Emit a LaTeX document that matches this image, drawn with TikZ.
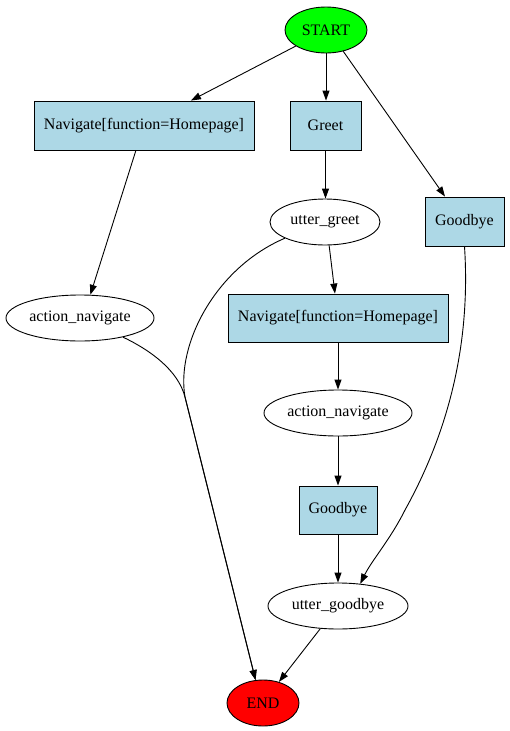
\documentclass[tikz,border=0pt]{standalone}
\usepackage{fontspec}
\setmainfont{Liberation Serif}
\usetikzlibrary{shapes.geometric,arrows.meta}
\definecolor{lb}{HTML}{ADD8E6}
\begin{document}
\begin{tikzpicture}[x=1pt,y=-1pt,
  every node/.style={font=\fontsize{16}{18}\selectfont, inner sep=0pt, line width=0.9pt},
  box/.style={draw, rectangle, fill=lb, minimum height=49pt},
  ell/.style={draw, ellipse, minimum height=46pt},
  edge/.style={line width=0.9pt, -{Triangle[length=10pt,width=7pt]}}]
\useasboundingbox (0,0) rectangle (510,731);
\node[ell, fill={rgb,255:red,0;green,255;blue,0}, minimum width=82pt] (start) at (326,30) {START};
\node[box, minimum width=220pt] (nav1) at (144,125.5) {Navigate[function=Homepage]};
\node[box, minimum width=71pt] (greet) at (325.5,125.5) {Greet};
\node[box, minimum width=79pt] (gb1) at (464.5,221.5) {Goodbye};
\node[ell, fill=white, minimum width=110pt] (ug) at (325,222) {utter\_greet};
\node[ell, fill=white, minimum width=148pt] (an1) at (80,318) {action\_navigate};
\node[box, minimum width=220pt, minimum height=48pt] (nav2) at (338,318) {Navigate[function=Homepage]};
\node[ell, fill=white, minimum width=148pt] (an2) at (338,413) {action\_navigate};
\node[box, minimum width=78pt, minimum height=48pt] (gb2) at (338,510) {Goodbye};
\node[ell, fill=white, minimum width=140pt] (ugb) at (338,606) {utter\_goodbye};
\node[ell, fill=red, minimum width=72pt] (end) at (263,703) {END};
\coordinate (join) at (185,397);

\draw[edge] (start.208) -- (nav1.28);
\draw[edge] (start.south) -- (start.south |- greet.north);
\draw[edge] (start.-51) -- (gb1.128);
\draw[edge] (nav1.252) -- (an1.66);
\draw[edge] (greet.south) -- (greet.south |- ug.north);
\draw[edge] (ug.280) -- (nav2.97);
\draw[edge] (ug.202) .. controls (215,268) and (176,345) .. (join) -- (end.108);
\draw[edge] (an1.-24) .. controls (150,350) and (178,370) .. (join) -- (end.108);
\draw[edge] (gb1.south) .. controls (470,330) and (455,420) .. (405,510) .. controls (390,540) and (372,560) .. (ugb.45);
\draw[edge] (nav2.south) -- (an2.north);
\draw[edge] (an2.south) -- (gb2.north);
\draw[edge] (gb2.south) -- (ugb.north);
\draw[edge] (ugb.232) -- (end.53);
\end{tikzpicture}
\end{document}
